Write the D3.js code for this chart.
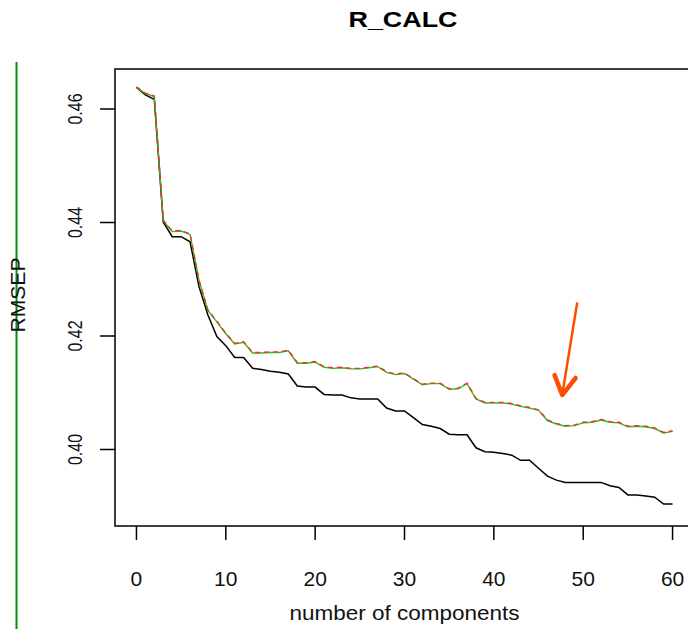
<!DOCTYPE html>
<html>
<head>
  <meta charset="UTF-8">
  <title>R_CALC</title>
  <style>
    body { margin: 0; background: #ffffff; }
    svg { display: block; background: #ffffff; }
    text { font-family: "Liberation Sans", Arial, sans-serif; fill: #111; }
  </style>
</head>
<body>
<svg></svg>

<script src="https://d3js.org/d3.v7.min.js"></script>
<script>

let width = 688, height = 629;

// number of components
let comps = d3.range(0, 61);

// black solid line (train)
let trainVals = [0.4638, 0.4625, 0.4617, 0.4401, 0.4375, 0.4375, 0.4366, 0.4287, 0.4237, 0.4199,
  0.4183, 0.4162, 0.4162, 0.4143, 0.4141, 0.4138, 0.4136, 0.4133, 0.4112, 0.4110,
  0.4110, 0.4097, 0.4096, 0.4096, 0.4091, 0.4089, 0.4089, 0.4089, 0.4073, 0.4068,
  0.4068, 0.4056, 0.4044, 0.4041, 0.4037, 0.4027, 0.4026, 0.4026, 0.4003, 0.3996,
  0.3995, 0.3993, 0.3990, 0.3981, 0.3981, 0.3967, 0.3953, 0.3946, 0.3942, 0.3942,
  0.3942, 0.3942, 0.3942, 0.3936, 0.3933, 0.3920, 0.3920, 0.3918, 0.3916, 0.3904,
  0.3904];

// red dashed line (CV)
let cvVals = [0.4639, 0.4628, 0.4623, 0.4404, 0.4385, 0.4386, 0.4380, 0.4299, 0.4246, 0.4226,
  0.4205, 0.4187, 0.4190, 0.4171, 0.4171, 0.4172, 0.4172, 0.4175, 0.4153, 0.4153,
  0.4155, 0.4146, 0.4144, 0.4145, 0.4143, 0.4143, 0.4145, 0.4147, 0.4137, 0.4133,
  0.4135, 0.4125, 0.4115, 0.4117, 0.4117, 0.4107, 0.4108, 0.4117, 0.4090, 0.4083,
  0.4083, 0.4083, 0.4081, 0.4077, 0.4074, 0.4070, 0.4052, 0.4046, 0.4042, 0.4043,
  0.4048, 0.4049, 0.4053, 0.4049, 0.4048, 0.4041, 0.4042, 0.4041, 0.4038, 0.4030,
  0.4033];

// green line (adjCV) - sits right on top of the red one
let adjVals = [0.4638, 0.4627, 0.4622, 0.4403, 0.4384, 0.4385, 0.4379, 0.4298, 0.4245, 0.4225,
  0.4204, 0.4186, 0.4189, 0.4170, 0.4170, 0.4171, 0.4171, 0.4174, 0.4152, 0.4152,
  0.4154, 0.4145, 0.4143, 0.4144, 0.4142, 0.4142, 0.4144, 0.4146, 0.4136, 0.4132,
  0.4134, 0.4124, 0.4114, 0.4116, 0.4116, 0.4106, 0.4107, 0.4116, 0.4089, 0.4082,
  0.4082, 0.4082, 0.4080, 0.4076, 0.4073, 0.4069, 0.4051, 0.4045, 0.4041, 0.4042,
  0.4047, 0.4048, 0.4052, 0.4048, 0.4047, 0.4040, 0.4041, 0.4040, 0.4037, 0.4029,
  0.4032];

let xTicks = [0, 10, 20, 30, 40, 50, 60];
let yTicks = [0.40, 0.42, 0.44, 0.46];

// arrow annotation, in data units: [component, RMSEP]
let arrowTail = [49.33, 0.4259];
let arrowTip = [47.65, 0.4096];
let arrowBarbs = [[46.8, 0.4131], [49.15, 0.4126]];

let svg = d3.select("svg")
    .attr("width", width)
    .attr("height", height);

// plot region (R style box, right edge runs off the picture)
let box = {left: 115, top: 69, right: 694, bottom: 526};

let x = d3.scaleLinear()
    .domain([-2.4, 62.4])
    .range([box.left, box.right]);

let y = d3.scaleLinear()
    .domain([0.40, 0.46])
    .range([449.5, 109]);

// green vertical line at far left
svg.append("line")
    .attr("x1", 16.5).attr("x2", 16.5)
    .attr("y1", 62).attr("y2", height)
    .attr("stroke", "#0a8a0a")
    .attr("stroke-width", 2);

// title
svg.append("text")
    .attr("x", 403)
    .attr("y", 27)
    .attr("text-anchor", "middle")
    .attr("textLength", 109)
    .attr("lengthAdjust", "spacingAndGlyphs")
    .style("font-size", "22px")
    .style("font-weight", "bold")
    .style("fill", "#000")
    .text("R_CALC");

// box
svg.append("rect")
    .attr("x", box.left)
    .attr("y", box.top)
    .attr("width", box.right - box.left)
    .attr("height", box.bottom - box.top)
    .attr("fill", "none")
    .attr("stroke", "#000")
    .attr("stroke-width", 1.5);

// x axis ticks + labels
let xg = svg.append("g");
xTicks.forEach(function(t) {
  xg.append("line")
    .attr("x1", x(t)).attr("x2", x(t))
    .attr("y1", box.bottom).attr("y2", box.bottom + 14)
    .attr("stroke", "#000")
    .attr("stroke-width", 1.5);
  xg.append("text")
    .attr("x", x(t))
    .attr("y", 586)
    .attr("text-anchor", "middle")
    .style("font-size", "21px")
    .text(t);
});

svg.append("text")
    .attr("x", x(30))
    .attr("y", 620)
    .attr("text-anchor", "middle")
    .attr("textLength", 230)
    .attr("lengthAdjust", "spacingAndGlyphs")
    .style("font-size", "21px")
    .text("number of components");

// y axis ticks + rotated labels
let yg = svg.append("g");
yTicks.forEach(function(t) {
  yg.append("line")
    .attr("x1", box.left - 15).attr("x2", box.left)
    .attr("y1", y(t)).attr("y2", y(t))
    .attr("stroke", "#000")
    .attr("stroke-width", 1.5);
  yg.append("text")
    .attr("transform", "translate(82," + y(t) + ") rotate(-90)")
    .attr("text-anchor", "middle")
    .attr("textLength", 31)
    .attr("lengthAdjust", "spacingAndGlyphs")
    .style("font-size", "21px")
    .text(t.toFixed(2));
});

svg.append("text")
    .attr("transform", "translate(25," + 295 + ") rotate(-90)")
    .attr("text-anchor", "middle")
    .attr("textLength", 75)
    .attr("lengthAdjust", "spacingAndGlyphs")
    .style("font-size", "21px")
    .text("RMSEP");

// lines
let line = d3.line()
    .x(d => x(d[0]))
    .y(d => y(d[1]));

svg.append("path")
    .datum(comps.map((c, i) => [c, trainVals[i]]))
    .attr("d", line)
    .attr("fill", "none")
    .attr("stroke", "#000")
    .attr("stroke-width", 1.5);

svg.append("path")
    .datum(comps.map((c, i) => [c, adjVals[i]]))
    .attr("d", line)
    .attr("fill", "none")
    .attr("stroke", "#22c322")
    .attr("stroke-width", 1.4);

svg.append("path")
    .datum(comps.map((c, i) => [c, cvVals[i]]))
    .attr("d", line)
    .attr("fill", "none")
    .attr("stroke", "#ff2a2a")
    .attr("stroke-width", 1.4)
    .attr("stroke-dasharray", "5,4");

// arrow
svg.append("line")
    .attr("x1", x(arrowTail[0])).attr("y1", y(arrowTail[1]))
    .attr("x2", x(arrowTip[0])).attr("y2", y(arrowTip[1]))
    .attr("stroke", "#ff4d00")
    .attr("stroke-width", 2.5);

svg.append("path")
    .attr("d", "M" + x(arrowBarbs[0][0]) + "," + y(arrowBarbs[0][1]) +
               "L" + x(arrowTip[0]) + "," + y(arrowTip[1]) +
               "L" + x(arrowBarbs[1][0]) + "," + y(arrowBarbs[1][1]))
    .attr("fill", "none")
    .attr("stroke", "#ff4d00")
    .attr("stroke-width", 4.5)
    .attr("stroke-linecap", "round")
    .attr("stroke-linejoin", "round");

</script>
</body>
</html>
